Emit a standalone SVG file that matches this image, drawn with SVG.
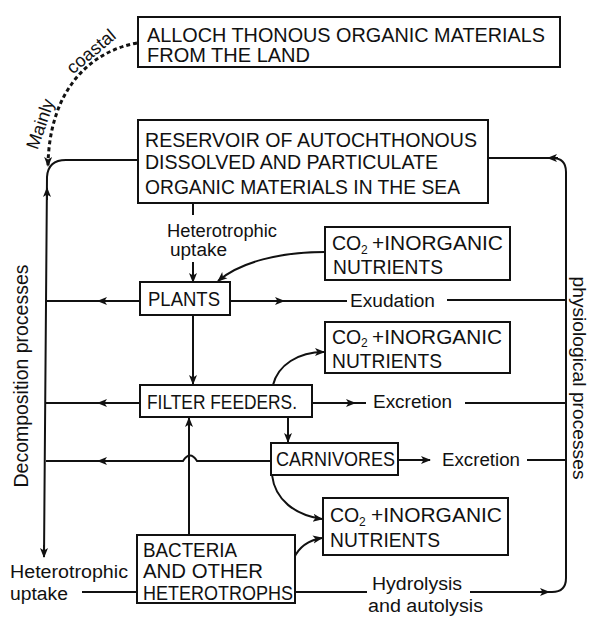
<svg xmlns="http://www.w3.org/2000/svg" width="590" height="617" viewBox="0 0 590 617">
<style>
text{font-family:"Liberation Sans",Arial,sans-serif;fill:#111;}
.b{font-size:19.5px;}
.s{font-size:18px;}
.sub{font-size:12px;}
rect{fill:#fff;stroke:#111;stroke-width:2;}
.c path{fill:none;stroke:#111;stroke-width:2;}
.c path.d{stroke-width:3;stroke-dasharray:4 3;}
</style>
<defs>
<marker id="ah" viewBox="0 0 10 10" refX="9" refY="5" markerWidth="10" markerHeight="10" markerUnits="userSpaceOnUse" orient="auto">
<path d="M0,1 L10,5 L0,9 L2.5,5 z" fill="#111"/>
</marker>
</defs>
<rect width="590" height="617" style="fill:#fff;stroke:none"/>

<g class="c" id="connectors">
<path class="d" d="M137,43 C88,52 49,92 48,166" marker-end="url(#ah)"/>
<path d="M44,557 L47,177 Q48,160 66,160 L138,160"/>
<path d="M47,200 L47,188" marker-end="url(#ah)"/>
<path d="M44,545 L44,557" marker-end="url(#ah)"/>
<path d="M488,158 L552,158 Q566,158 566,172 L566,578 Q566,592 552,592 L470,592"/>
<path d="M558,158 L548,158" marker-end="url(#ah)"/>
<path d="M530,592 L549,592" marker-end="url(#ah)"/>
<path d="M193,203 L193,215"/>
<path d="M193,262 L193,282" marker-end="url(#ah)"/>
<path d="M325,252 C280,252 240,262 218,281" marker-end="url(#ah)"/>
<path d="M140,301 L46,301"/>
<path d="M110,301 L98,301" marker-end="url(#ah)"/>
<path d="M230,301 L347,301"/>
<path d="M272,301 L284,301" marker-end="url(#ah)"/>
<path d="M447,300 L566,300"/>
<path d="M193,315 L193,384" marker-end="url(#ah)"/>
<path d="M140,403 L46,403"/>
<path d="M110,403 L98,403" marker-end="url(#ah)"/>
<path d="M312,403 L366,403"/>
<path d="M343,403 L355,403" marker-end="url(#ah)"/>
<path d="M465,403 L566,403"/>
<path d="M273,385 C278,365 298,352 324,352" marker-end="url(#ah)"/>
<path d="M288,417 L288,442" marker-end="url(#ah)"/>
<path d="M398,460 L430,460" marker-end="url(#ah)"/>
<path d="M527,460 L566,460"/>
<path d="M271,461 L197,461 Q190,450 183,461 L46,461"/>
<path d="M110,461 L98,461" marker-end="url(#ah)"/>
<path d="M189,535 L189,418" marker-end="url(#ah)"/>
<path d="M272,475 C275,500 295,515 322,519" marker-end="url(#ah)"/>
<path d="M294,558 C300,545 310,540 322,538" marker-end="url(#ah)"/>
<path d="M295,592 L367,592"/>
<path d="M82,592 L137,592"/>
</g>

<g id="allochthonous">
<rect x="138" y="17" width="422" height="50"/>
<text class="b" x="147" y="42" textLength="398" lengthAdjust="spacingAndGlyphs">ALLOCH THONOUS ORGANIC MATERIALS</text>
<text class="b" x="147" y="62" textLength="163" lengthAdjust="spacingAndGlyphs">FROM THE LAND</text>
</g>

<g id="reservoir">
<rect x="138" y="120" width="350" height="83"/>
<text class="b" x="145" y="147" textLength="332" lengthAdjust="spacingAndGlyphs">RESERVOIR OF AUTOCHTHONOUS</text>
<text class="b" x="145" y="169" textLength="293" lengthAdjust="spacingAndGlyphs">DISSOLVED AND PARTICULATE</text>
<text class="b" x="145" y="194" textLength="315" lengthAdjust="spacingAndGlyphs">ORGANIC MATERIALS IN THE SEA</text>
</g>

<g id="labels">
<text class="s" x="167" y="237" textLength="110" lengthAdjust="spacingAndGlyphs">Heterotrophic</text>
<text class="s" x="170" y="256" textLength="57" lengthAdjust="spacingAndGlyphs">uptake</text>
<text class="s" x="350" y="307" textLength="85" lengthAdjust="spacingAndGlyphs">Exudation</text>
<text class="s" x="373" y="408" textLength="79" lengthAdjust="spacingAndGlyphs">Excretion</text>
<text class="s" x="442" y="466" textLength="78" lengthAdjust="spacingAndGlyphs">Excretion</text>
<text class="s" x="372" y="590" textLength="90" lengthAdjust="spacingAndGlyphs">Hydrolysis</text>
<text class="s" x="368" y="612" textLength="115" lengthAdjust="spacingAndGlyphs">and autolysis</text>
<text class="s" x="10" y="578" textLength="118" lengthAdjust="spacingAndGlyphs">Heterotrophic</text>
<text class="s" x="10" y="600" textLength="58" lengthAdjust="spacingAndGlyphs">uptake</text>
<text class="s" text-anchor="middle" transform="translate(46,126) rotate(-71)" textLength="52" lengthAdjust="spacingAndGlyphs">Mainly</text>
<text class="s" text-anchor="middle" transform="translate(95,56) rotate(-40)" textLength="58" lengthAdjust="spacingAndGlyphs">coastal</text>
<text class="b" text-anchor="middle" transform="translate(28,376) rotate(-90)" textLength="223" lengthAdjust="spacingAndGlyphs">Decomposition processes</text>
<text class="s" text-anchor="middle" transform="translate(573,378) rotate(90)" textLength="203" lengthAdjust="spacingAndGlyphs">physiological processes</text>
</g>

<g id="nutrients1">
<rect x="325" y="227" width="185" height="53"/>
<text class="b" y="250"><tspan x="332">CO</tspan><tspan class="sub" x="361" dy="4">2</tspan><tspan x="372" dy="-4" textLength="131" lengthAdjust="spacingAndGlyphs">+INORGANIC</tspan></text>
<text class="b" x="333" y="274" textLength="110" lengthAdjust="spacingAndGlyphs">NUTRIENTS</text>
</g>

<g id="plants">
<rect x="140" y="282" width="90" height="33"/>
<text class="b" x="148" y="306" textLength="72" lengthAdjust="spacingAndGlyphs">PLANTS</text>
</g>

<g id="nutrients2">
<rect x="325" y="322" width="185" height="51"/>
<text class="b" y="344"><tspan x="332">CO</tspan><tspan class="sub" x="361" dy="3">2</tspan><tspan x="372" dy="-3" textLength="130" lengthAdjust="spacingAndGlyphs">+INORGANIC</tspan></text>
<text class="b" x="332" y="368" textLength="110" lengthAdjust="spacingAndGlyphs">NUTRIENTS</text>
</g>

<g id="filter-feeders">
<rect x="140" y="385" width="172" height="32"/>
<text class="b" x="147" y="409" textLength="150" lengthAdjust="spacingAndGlyphs">FILTER FEEDERS.</text>
</g>

<g id="carnivores">
<rect x="271" y="443" width="127" height="32"/>
<text class="b" x="276" y="466" textLength="119" lengthAdjust="spacingAndGlyphs">CARNIVORES</text>
</g>

<g id="nutrients3">
<rect x="323" y="498" width="185" height="57"/>
<text class="b" y="522"><tspan x="330">CO</tspan><tspan class="sub" x="359" dy="4">2</tspan><tspan x="371" dy="-4" textLength="131" lengthAdjust="spacingAndGlyphs">+INORGANIC</tspan></text>
<text class="b" x="330" y="547" textLength="110" lengthAdjust="spacingAndGlyphs">NUTRIENTS</text>
</g>

<g id="bacteria">
<rect x="137" y="535" width="158" height="68"/>
<text class="b" x="143" y="557" textLength="94" lengthAdjust="spacingAndGlyphs">BACTERIA</text>
<text class="b" x="143" y="578" textLength="120" lengthAdjust="spacingAndGlyphs">AND OTHER</text>
<text class="b" x="143" y="600" textLength="150" lengthAdjust="spacingAndGlyphs">HETEROTROPHS</text>
</g>
</svg>
